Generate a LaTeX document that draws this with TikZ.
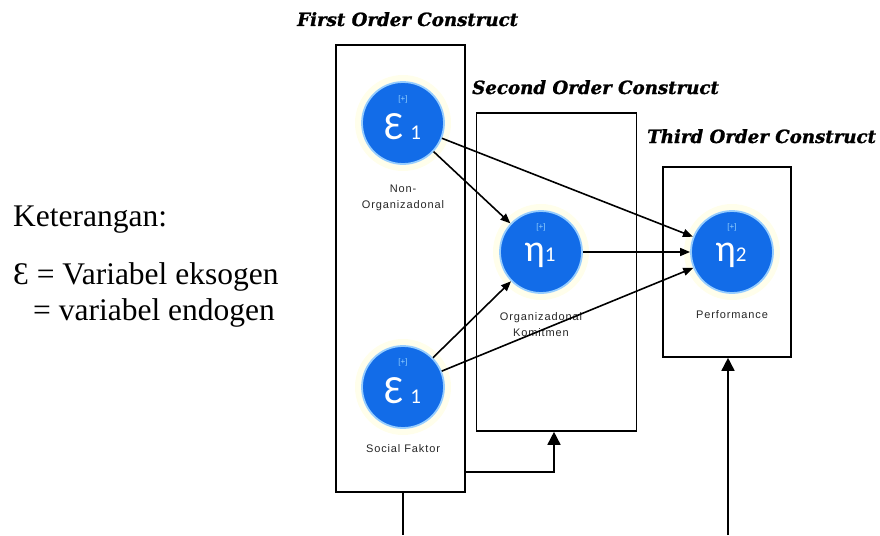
\documentclass[tikz,border=0pt]{standalone}
\usepackage{fontspec}
\setmainfont{Liberation Serif}
\newfontfamily\circfont{Carlito}
\newfontfamily\tagfont[LetterSpace=8]{Liberation Sans}
\newfontfamily\headfont[FakeBold=1.2]{DejaVu Serif}
\usetikzlibrary{arrows.meta}

\definecolor{latentblue}{RGB}{18,108,232}
\definecolor{halo}{RGB}{150,205,255}
\definecolor{tagcyan}{RGB}{150,210,255}

\tikzset{
  frame/.style={draw=black, line width=1.6pt, inner sep=0pt},
  latent/.style={circle, fill=latentblue, draw=halo, line width=1.8pt,
                 minimum size=82pt, inner sep=0pt},
  glow/.style={circle, fill=yellow!8, minimum size=96pt, inner sep=0pt},
  plus/.style={font=\fontspec{Liberation Sans}\fontsize{8}{8}\selectfont, text=tagcyan, inner sep=0pt},
  sym/.style={text=white, inner sep=0pt},
  caption/.style={font=\tagfont\fontsize{11}{16}\selectfont, align=center,
                  text=black!85, inner sep=0pt},
  heading/.style={font=\headfont\bfseries\itshape\fontsize{18.2}{18.2}\selectfont,
                  anchor=base west, inner sep=0pt},
  legend/.style={font=\fontsize{31.5}{31.5}\selectfont, inner sep=0pt, anchor=base west},
  path/.style={draw=black, line width=1.6pt, -{Triangle[length=10pt,width=8pt]}},
  feed/.style={draw=black, line width=1.6pt, -{Triangle[length=13pt,width=13pt]}},
}

\begin{document}
\begin{tikzpicture}[x=1pt,y=-1pt]
\useasboundingbox (0,0) rectangle (880,535);

% construct frames
\node[frame, minimum width=129pt, minimum height=447pt] (box1) at (400.5,268.5) {};
\node[frame, minimum width=160pt, minimum height=318pt] (box2) at (556.5,272) {};
\node[frame, minimum width=128pt, minimum height=190pt] (box3) at (727,262) {};

% headings
\node[heading] (t1) at (297,26) {First Order Construct};
\node[heading] (t2) at (472,94) {Second Order Construct};
\node[heading] (t3) at (647,143) {Third Order Construct};

% legend
\node[legend] (k0) at (13,226) {Keterangan:};
\node[legend] (k1) at (13,284) {Ɛ = Variabel eksogen};
\node[legend] (k2) at (33,320) {= variabel endogen};

% latent variables
\node[glow] at (403,123) {};
\node[glow] at (403,387) {};
\node[glow] at (541,252) {};
\node[glow] at (732,252) {};
\node[latent] (e1) at (403,123) {};
\node[latent] (e2) at (403,387) {};
\node[latent] (h1) at (541,252) {};
\node[latent] (h2) at (732,252) {};

\node[plus] (e1p) at (403,99) {[+]};
\node[plus] (e2p) at (403,362) {[+]};
\node[plus] (h1p) at (541,227) {[+]};
\node[plus] (h2p) at (732,227) {[+]};

\node[sym] (e1s) at (403,127) {\circfont\fontsize{40}{40}\selectfont Ɛ\,\fontsize{21}{21}\selectfont 1};
\node[sym] (e2s) at (403,391) {\circfont\fontsize{40}{40}\selectfont Ɛ\,\fontsize{21}{21}\selectfont 1};
\node[sym] (h1s) at (540,255) {\circfont\fontsize{38}{38}\selectfont η\fontsize{21}{21}\selectfont 1};
\node[sym] (h2s) at (731,255) {\circfont\fontsize{38}{38}\selectfont η\fontsize{21}{21}\selectfont 2};

% captions
\node[caption] (c1) at (403,198) {Non-\\Organizadonal};
\node[caption] (c2) at (403,449) {Social Faktor};
\node[caption] (c3) at (541,325) {Organizadonal\\Komitmen};
\node[caption] (c4) at (732,315) {Performance};

% structural paths
\draw[path] (e1) -- (h1);
\draw[path] (e1) -- (h2);
\draw[path] (h1) -- (h2);
\draw[path] (e2) -- (h1);
\draw[path] (e2) -- (h2);

% links below the frames
\coordinate (b1) at (403,535);
\coordinate (j) at (554,472);
\coordinate (p) at (728,535);
\draw[line width=1.6pt] (box1.south -| b1) -- (b1);
\draw[feed] (box1.east |- j) -- (j) -- (box2.south -| j);
\draw[feed] (p) -- (box3.south -| p);
\end{tikzpicture}
\end{document}
